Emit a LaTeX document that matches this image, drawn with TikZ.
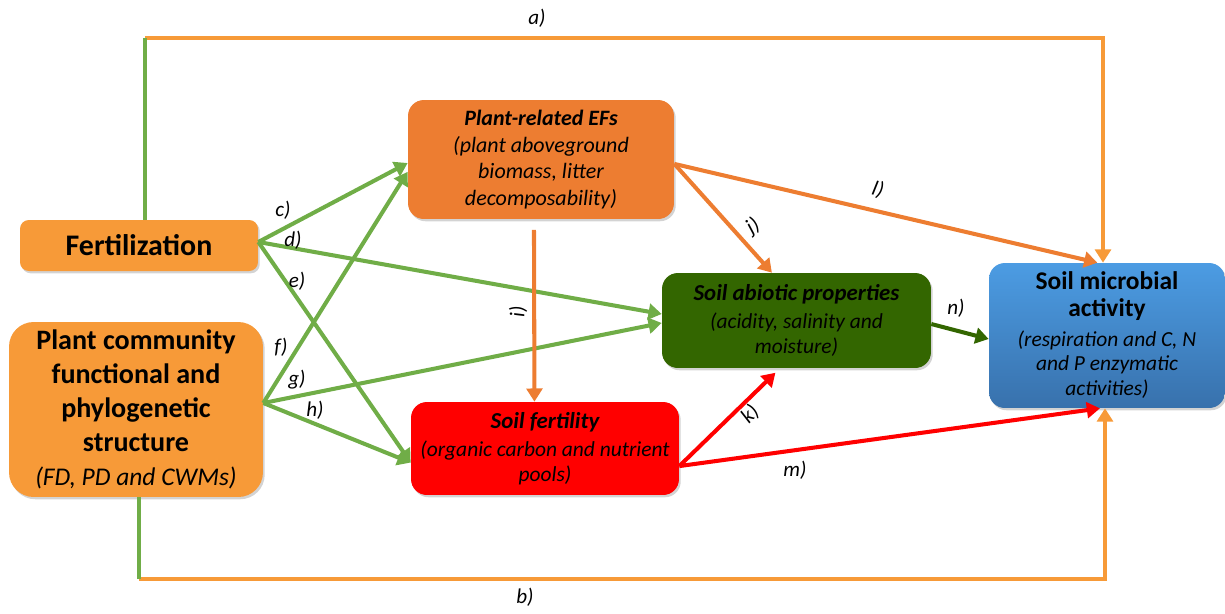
\documentclass[tikz,border=0pt]{standalone}
\usepackage{fontspec}
\setmainfont{Carlito}
\usetikzlibrary{arrows.meta,shadows}
\definecolor{fertorange}{HTML}{F79A38}
\definecolor{efsorange}{HTML}{ED7D31}
\definecolor{abiogreen}{HTML}{336600}
\definecolor{linkgreen}{HTML}{70AD47}
\definecolor{microtop}{HTML}{4C9CE3}
\definecolor{microbot}{HTML}{3871AC}

\begin{document}
\begin{tikzpicture}[x=0.02cm,y=-0.02cm,
    box/.style={rounded corners=9pt,align=center,inner sep=2pt,drop shadow={opacity=0.35,shadow xshift=1pt,shadow yshift=-1.3pt}},
    lab/.style={font=\fontsize{12}{14}\selectfont\itshape,inner sep=1pt},
    link/.style={line width=2.3pt,-{Triangle[width=9pt,length=7.5pt]}},
    plain/.style={line width=2.3pt}]
    \useasboundingbox (0,0) rectangle (1225,613);
    \node[box,fill=fertorange,rounded corners=5pt,minimum width=4.76cm,minimum height=1.02cm,font=\fontsize{17}{21}\selectfont\bfseries] (fert) at (139,245.5) {Fertilization};
    \node[box,fill=fertorange,rounded corners=14pt,minimum width=5.08cm,minimum height=3.5cm,font=\fontsize{16}{19.3}\selectfont\bfseries] (comm) at (136,409.5) {Plant community\\ functional and\\ phylogenetic\\ structure\\ \mdseries\itshape\fontsize{14.5}{18}\selectfont (FD, PD and CWMs)};
    \node[box,fill=efsorange,minimum width=5.32cm,minimum height=2.38cm,font=\fontsize{12.5}{14.9}\selectfont\itshape] (efs) at (541,159.5) {\textbf{Plant-related EFs}\\[0.5pt] (plant aboveground\\ biomass, litter\\ decomposability)};
    \node[box,fill=red,minimum width=5.36cm,minimum height=1.86cm,font=\fontsize{12.2}{14.2}\selectfont\itshape] (fertil) at (545,448.5) {\textbf{\fontsize{13}{14.2}\selectfont Soil fertility}\\[2pt] (organic carbon and nutrient\\ pools)};
    \node[box,fill=abiogreen,minimum width=5.38cm,minimum height=1.9cm,font=\fontsize{12.2}{14.2}\selectfont\itshape] (abio) at (796.5,320.5) {\textbf{\fontsize{13}{14.2}\selectfont Soil abiotic properties}\\[2pt] (acidity, salinity and\\ moisture)};
    \node[box,top color=microtop,bottom color=microbot,minimum width=4.72cm,minimum height=2.9cm,font=\fontsize{12.2}{14.2}\selectfont\itshape] (micro) at (1107,335.5) {\upshape\bfseries\fontsize{14.5}{17}\selectfont Soil microbial\\[1pt] \upshape\bfseries\fontsize{14.5}{17}\selectfont activity\\[2.5pt] (respiration and C, N\\ and P enzymatic\\ activities)};

    \coordinate (tl) at (145,38);
    \coordinate (tr) at (1103,38);
    \coordinate (bl) at (139,579);
    \coordinate (br) at (1105,579);
    \draw[plain,fertorange,-{Triangle[width=9pt,length=7.5pt]}] (tl) -- (tr) -- (tr |- micro.north);
    \draw[plain,linkgreen] (tl) -- (tl |- fert.north);
    \draw[plain,fertorange,-{Triangle[width=9pt,length=7.5pt]}] (bl) -- (br) -- (br |- micro.south);
    \draw[plain,linkgreen] (bl) -- (bl |- comm.south);

    \draw[link,linkgreen] ([yshift=2pt]fert.east) -- ([yshift=-2pt]efs.west);
    \draw[link,linkgreen] ([yshift=2pt]fert.east) -- ([yshift=3.7pt]abio.west);
    \draw[link,linkgreen] ([yshift=2pt]fert.east) -- ([yshift=-8pt]fertil.west);
    \draw[link,linkgreen] ([yshift=3.7pt]comm.east) -- ([yshift=-7pt]efs.west);
    \draw[link,linkgreen] ([yshift=3.7pt]comm.east) -- ([yshift=-1.4pt]abio.west);
    \draw[link,linkgreen] ([yshift=3.7pt]comm.east) -- ([yshift=-8pt]fertil.west);
    \draw[link,efsorange] ([xshift=-4pt,yshift=-6pt]efs.south) -- ([xshift=-6pt]fertil.north);
    \draw[link,efsorange] ([yshift=-2.5pt]efs.east) -- ([xshift=-14pt]abio.north);
    \draw[link,efsorange] ([yshift=-2.5pt]efs.east) -- ([xshift=-5.5pt]micro.north);
    \draw[link,red] ([yshift=-10pt]fertil.east) -- ([xshift=-12pt,yshift=-2.5pt]abio.south);
    \draw[link,red] ([yshift=-10pt]fertil.east) -- ([xshift=-4pt]micro.south);
    \draw[link,abiogreen] ([yshift=-2pt]abio.east) -- ([yshift=-2pt]micro.west);

    \node[lab] (la) at (537,18) {a)};
    \node[lab] (lb) at (525,597) {b)};
    \node[lab] (lc) at (283,210) {c)};
    \node[lab] (ld) at (293,240) {d)};
    \node[lab] (le) at (297,281) {e)};
    \node[lab] (lf) at (281,347) {f)};
    \node[lab] (lg) at (297,380) {g)};
    \node[lab] (lh) at (315,410) {h)};
    \node[lab,rotate=90] (li) at (518,312) {i)};
    \node[lab,rotate=35] (lj) at (753,226) {j)};
    \node[lab,rotate=45] (lk) at (750,414) {k)};
    \node[lab,rotate=-15] (ll) at (878,190) {l)};
    \node[lab] (lm) at (795,470) {m)};
    \node[lab] (ln) at (956,308) {n)};
  \end{tikzpicture}
\end{document}
